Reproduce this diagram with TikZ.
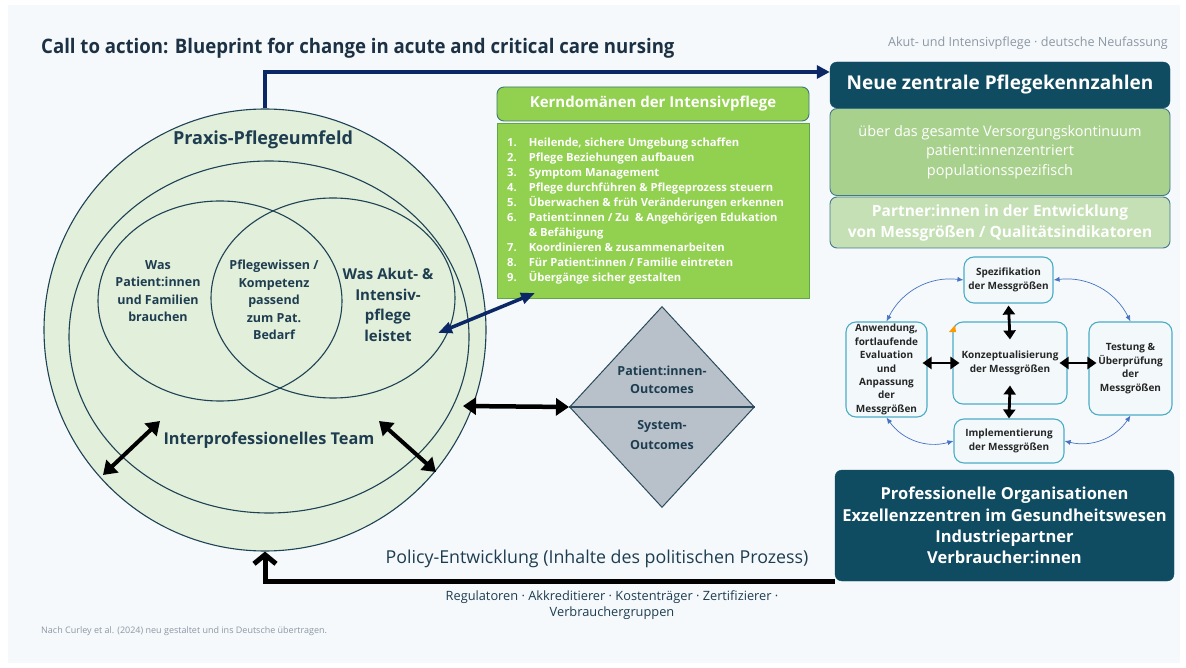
\documentclass[tikz,border=0pt]{standalone}
\usepackage{fontspec}
\setmainfont{Open Sans}
\newfontfamily\narrowfont[FakeStretch=0.93]{Open Sans}
\usetikzlibrary{arrows.meta,shapes.geometric,positioning}

\definecolor{bgpanel}{HTML}{F5F9FC}
\definecolor{titleink}{HTML}{1C3144}
\definecolor{inkdark}{HTML}{1E3D50}
\definecolor{greyink}{HTML}{8C98A4}
\definecolor{circlefill}{HTML}{E2EFDA}
\definecolor{circleline}{HTML}{1E4255}
\definecolor{navyline}{HTML}{0B2766}
\definecolor{greenfill}{HTML}{92D050}
\definecolor{greenhead}{HTML}{3C7A73}
\definecolor{greenedge}{HTML}{62A64A}
\definecolor{darkteal}{HTML}{0F4C62}
\definecolor{greentwo}{HTML}{A9D18E}
\definecolor{greenthree}{HTML}{C5E0B4}
\definecolor{paleedge}{HTML}{41798A}
\definecolor{cycleedge}{HTML}{4BACC6}
\definecolor{cyclefill}{HTML}{F3F9FB}
\definecolor{loopblue}{HTML}{4472C4}
\definecolor{diamondfill}{HTML}{B8C1CA}
\definecolor{diamondline}{HTML}{2B4A5B}

\begin{document}
\begin{tikzpicture}[x=1pt, y=-1pt,
  venn/.style = {draw=circleline, line width=1.1pt},
  ventext/.style = {font=\bfseries\fontsize{12.5}{17.5}\selectfont, text=inkdark, align=center},
  greenbox/.style = {draw=greenedge, fill=greenfill, line width=0.9pt, inner sep=0pt},
  tealbox/.style = {draw=darkteal, fill=darkteal, rounded corners=7pt, text=white, align=center, inner sep=0pt},
  palebox/.style = {draw=paleedge, line width=0.9pt, rounded corners=7pt, text=white, align=center, inner sep=0pt},
  cyclebox/.style = {draw=cycleedge, fill=cyclefill, line width=1.1pt, rounded corners=10pt, align=center, inner sep=0pt,
    font=\bfseries\fontsize{10}{13.4}\selectfont, text=black!85},
  bigarrow/.style = {{Triangle[length=13pt,width=17pt]}-{Triangle[length=13pt,width=17pt]}, line width=4.5pt},
  navyarrow/.style = {{Triangle[length=14pt,width=11pt]}-{Triangle[length=14pt,width=11pt]}, line width=3.5pt, navyline},
  cyclearrow/.style = {{Triangle[length=9pt,width=12pt]}-{Triangle[length=9pt,width=12pt]}, line width=2.8pt},
  loopline/.style = {{Latex[length=6pt,width=5pt]}-{Latex[length=6pt,width=5pt]}, line width=0.7pt, loopblue}]

\useasboundingbox (0,0) rectangle (1186,668);
\fill[white] (0,0) rectangle (1186,668);
\fill[bgpanel] (8,5) rectangle (1180,663);

% headings
\node[anchor=west, inner sep=0, font=\narrowfont\bfseries\fontsize{20}{24}\selectfont, text=titleink] (title) at (41,48)
  {Call to action: Blueprint for change in acute and critical care nursing};
\node[anchor=east, inner sep=0, font=\fontsize{12.6}{14}\selectfont, text=greyink] (edition) at (1168,43)
  {Akut- und Intensivpflege · deutsche Neufassung};

% practice environment
\node[circle, draw=circleline, fill=circlefill, line width=1.1pt, minimum size=442pt, inner sep=0] (praxis) at (265,330) {};
\draw[venn] (269,337) ellipse [x radius=200, y radius=176];
\draw[venn] (220,301) ellipse [x radius=122, y radius=100];
\draw[venn] (333,298) ellipse [x radius=122, y radius=100];

\node[font=\bfseries\fontsize{18}{20}\selectfont, text=inkdark] (umfeld) at (263,140) {Praxis-Pflegeumfeld};
\node[ventext] (patneeds) at (158,291) {Was\\Patient:innen\\und Familien\\brauchen};
\node[ventext] (wissen) at (274,300) {Pflegewissen /\\Kompetenz\\passend\\zum Pat.\\Bedarf};
\node[ventext, font=\bfseries\fontsize{15}{20.5}\selectfont] (leistet) at (388,305) {Was Akut- \&\\Intensiv-\\pflege\\leistet};
\node[font=\bfseries\fontsize{16.3}{18}\selectfont, text=inkdark] (team) at (269,440) {Interprofessionelles Team};

\coordinate (teamLa) at (103,475);
\coordinate (teamLb) at (160,421);
\coordinate (teamRa) at (379,421);
\coordinate (teamRb) at (436,472);
\draw[bigarrow, line width=4pt] (teamLa) -- (teamLb);
\draw[bigarrow, line width=4pt] (teamRa) -- (teamRb);

% outcomes
\node[diamond, draw=diamondline, fill=diamondfill, line width=1pt, minimum width=185pt, minimum height=201pt, inner sep=0] (outcomes) at (662,407) {};
\draw[diamondline, line width=1.3pt] (outcomes.west) -- (outcomes.east);
\node[font=\bfseries\fontsize{12.5}{17.5}\selectfont, text=inkdark, align=center] (patout) at (662,380) {Patient:innen-\\Outcomes};
\node[font=\bfseries\fontsize{12.5}{19.5}\selectfont, text=inkdark, align=center] (sysout) at (662,435) {System-\\Outcomes};
\coordinate (praxisedge) at (463,406);
\draw[bigarrow] (praxisedge) -- (outcomes.west);

% core domains
\node[greenbox, draw=greenhead, rounded corners=7pt, minimum width=312pt, minimum height=34pt,
  font=\bfseries\fontsize{15}{18}\selectfont, text=white] (kernhead) at (653,104) {Kerndomänen der Intensivpflege};
\node[greenbox, minimum width=312pt, minimum height=175pt] (kernlist) at (653,210.5) {};
\node[anchor=north west, inner sep=0, text=white, font=\bfseries\fontsize{11.2}{15}\selectfont] (kerntext) at (507,136)
  {\begin{tabular}{@{}l@{\hspace{12pt}}l@{}}
   1. & Heilende, sichere Umgebung schaffen\\
   2. & Pflege\ Beziehungen aufbauen\\
   3. & Symptom Management\\
   4. & Pflege durchführen \& Pflegeprozess steuern\\
   5. & Überwachen \& früh Veränderungen erkennen\\
   6. & Patient:innen / Zu\ \ \& Angehörigen\ Edukation\\
      & \& Befähigung\\
   7. & Koordinieren \& zusammenarbeiten\\
   8. & Für Patient:innen / Familie eintreten\\
   9. & Übergänge sicher gestalten
   \end{tabular}};
\coordinate (vennhit) at (438,333);
\coordinate (kernfoot) at (535,293);
\draw[navyarrow] (vennhit) -- (kernfoot);

% new indicators
\node[palebox, fill=greentwo, minimum width=340pt, minimum height=87pt,
  font=\fontsize{14.5}{19.5}\selectfont] (scope) at (1000,152)
  {über das gesamte Versorgungskontinuum\\patient:innenzentriert\\populationsspezifisch};
\node[tealbox, minimum width=340pt, minimum height=46pt, font=\bfseries\fontsize{19}{22}\selectfont] (kennzahl) at (1000,85)
  {Neue zentrale Pflegekennzahlen};
\node[palebox, fill=greenthree, minimum width=340pt, minimum height=51pt,
  font=\bfseries\fontsize{15.5}{21}\selectfont] (partner) at (1000,222.5)
  {Partner:innen in der Entwicklung\\von Messgrößen / Qualitätsindikatoren};
\draw[navyline, line width=3.5pt, -{Triangle[length=13pt,width=13pt]}] (praxis.north) |- ([yshift=13pt]kennzahl.west);

% measure cycle
\node[cyclebox, minimum width=89pt, minimum height=46pt] (spez) at (1008.5,280) {Spezifikation\\der Messgrößen};
\node[cyclebox, minimum width=114pt, minimum height=82pt] (konz) at (1010,363) {Konzeptualisierung\\der Messgrößen};
\node[cyclebox, minimum width=81pt, minimum height=95pt] (anw) at (886.5,369.5)
  {Anwendung,\\fortlaufende\\Evaluation\\und\\Anpassung\\der\\Messgrößen};
\node[cyclebox, minimum width=83pt, minimum height=93pt] (test) at (1130.5,368.5) {Testung \&\\Überprüfung\\der\\Messgrößen};
\node[cyclebox, minimum width=110pt, minimum height=44pt] (impl) at (1009,441) {Implementierung\\der Messgrößen};
\fill[orange!80!yellow] (949,332) -- (955,325) -- (956,332) -- cycle;

\draw[cyclearrow] ([yshift=-2pt]spez.south) -- ([yshift=-18pt]konz.north);
\draw[cyclearrow] ([yshift=19pt]konz.south) -- (impl.north);
\draw[cyclearrow] ([xshift=-5pt]anw.east |- konz) -- ([xshift=7pt]konz.west);
\draw[cyclearrow] ([xshift=-8pt]konz.east) -- ([xshift=8pt]test.west |- konz);
\draw[loopline] (spez.west) to[bend right=35] (anw.north);
\draw[loopline] (spez.east) to[bend left=35] (test.north);
\draw[loopline] (anw.south) to[bend right=35] (impl.west);
\draw[loopline] (test.south) to[bend left=35] (impl.east);

% stakeholders and policy
\node[tealbox, minimum width=339pt, minimum height=111pt, font=\bfseries\fontsize{16.5}{21.3}\selectfont] (org) at (1004.5,525.5)
  {Professionelle Organisationen\\Exzellenzzentren im Gesundheitswesen\\Industriepartner\\Verbraucher:innen};
\draw[line width=5pt, -{Straight Barb[length=9pt,width=22pt]}] (org.south west) -| (praxis.south);
\node[font=\fontsize{17.8}{20}\selectfont, text=inkdark] (policy) at (597,559) {Policy-Entwicklung (Inhalte des politischen Prozess)};
\node[font=\fontsize{12.8}{16}\selectfont, text=inkdark, align=center] (regul) at (612,605)
  {Regulatoren · Akkreditierer · Kostenträger · Zertifizierer ·\\Verbrauchergruppen};
\node[anchor=west, inner sep=0, font=\fontsize{9}{10}\selectfont, text=greyink] (source) at (41,631)
  {Nach Curley et al. (2024) neu gestaltet und ins Deutsche übertragen.};
\end{tikzpicture}
\end{document}
